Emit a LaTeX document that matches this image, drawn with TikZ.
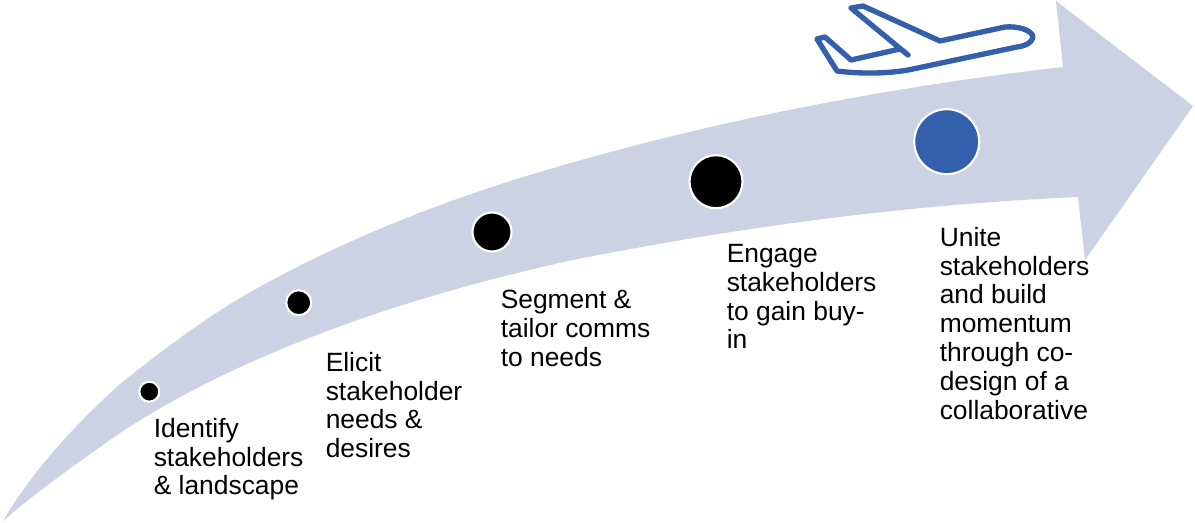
\documentclass[tikz,border=0pt]{standalone}
\usepackage{fontspec}
\setmainfont{Liberation Sans}
\definecolor{arrowfill}{HTML}{CCD2E3}
\definecolor{planeblue}{HTML}{335FAD}
\tikzset{
  dot/.style={circle,draw=white,line width=1.6pt,fill=black,inner sep=0pt,minimum size=#1*0.75pt},
  lbl/.style={anchor=north west,align=left,inner sep=0pt,font=\fontsize{19.8pt}{21.6pt}\selectfont},
}
\begin{document}
\begin{tikzpicture}[x=0.75pt,y=-0.75pt]
\useasboundingbox (0,0) rectangle (1195,523);
\fill[arrowfill] (3,521)
  .. controls (33,470) and (75,425) .. (120,384)
  .. controls (160,352) and (200,322) .. (240,298)
  .. controls (340,240) and (450,198) .. (550,169)
  .. controls (710,122) and (880,88) .. (1063,67)
  -- (1056,1) -- (1193,106) -- (1085,260) -- (1078,197)
  .. controls (900,205) and (735,228) .. (573,260)
  .. controls (490,278) and (405,302) .. (330,330)
  .. controls (260,356) and (185,390) .. (120,433)
  .. controls (80,461) and (35,493) .. (3,521) -- cycle;
\node[dot=20] (d1) at (149.3,391.7) {};
\node[dot=25] (d2) at (298.7,302.7) {};
\node[dot=39] (d3) at (492,232) {};
\node[dot=53] (d4) at (716,181.7) {};
\node[dot=65,fill=planeblue] (d5) at (946.7,141.7) {};
\draw[planeblue,line width=4pt,line join=round,line cap=round]
  (851,8) -- (863,6) -- (940,41) -- (1005,27)
  .. controls (1018,26) and (1032,30) .. (1033,37)
  .. controls (1032,43) and (1025,46) .. (1017,47)
  -- (913,69) .. controls (890,74) and (860,74) .. (837,71)
  -- (817,39) -- (825,37) -- (851,60) -- (900,49)
  (851,8) -- (908,55);
\node[lbl] (t1) at (153.5,418) {Identify\\stakeholders\\\& landscape};
\node[lbl] (t2) at (325.5,352) {Elicit\\stakeholder\\needs \&\\desires};
\node[lbl] (t3) at (500.5,290) {Segment \&\\tailor comms\\to needs};
\node[lbl] (t4) at (726.5,244) {Engage\\stakeholders\\to gain buy-\\in};
\node[lbl] (t5) at (939.5,227) {Unite\\stakeholders\\and build\\momentum\\through co-\\design of a\\collaborative};
\end{tikzpicture}
\end{document}
